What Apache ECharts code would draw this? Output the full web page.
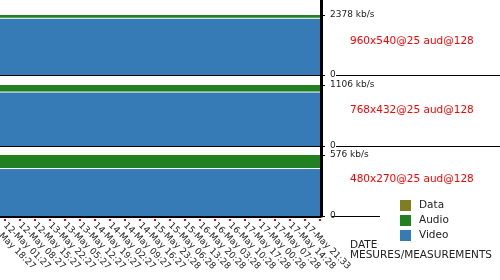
<!DOCTYPE html>
<html>
<head>
<meta charset="utf-8">
<script src="https://cdn.jsdelivr.net/npm/echarts@6/dist/echarts.min.js"></script>
<style>
  html, body { margin: 0; padding: 0; background: #fff; }
  #chart { width: 500px; height: 280px; }
</style>
</head>
<body>
<div id="chart"></div>
<script>
// categories (the first one sits just off the left edge, the last one closes the plot)
const times = ['12-May 18:27', '12-May 01:27', '12-May 08:27', '12-May 15:27', '13-May 22:27', '13-May 05:27',
  '13-May 12:27', '14-May 19:27', '14-May 02:27', '14-May 09:27', '14-May 16:27', '15-May 23:28',
  '15-May 06:28', '15-May 13:28', '16-May 20:28', '16-May 03:28', '16-May 10:28', '17-May 17:28',
  '17-May 00:28', '17-May 07:28', '17-May 14:28', '17-May 21:33', '']

// kb/s per profile
const panelNames = ['960x540@25 aud@128', '768x432@25 aud@128', '480x270@25 aud@128']
const panelMax = [2378, 1106, 576]
const video1 = [2250, 2250, 2250, 2250, 2250, 2250, 2250, 2250, 2250, 2250, 2250, 2250, 2250, 2250, 2250, 2250, 2250, 2250, 2250, 2250, 2250, 2250, 2250]
const video2 = [978, 978, 978, 978, 978, 978, 978, 978, 978, 978, 978, 978, 978, 978, 978, 978, 978, 978, 978, 978, 978, 978, 978]
const video3 = [448, 448, 448, 448, 448, 448, 448, 448, 448, 448, 448, 448, 448, 448, 448, 448, 448, 448, 448, 448, 448, 448, 448]
const audio = [128, 128, 128, 128, 128, 128, 128, 128, 128, 128, 128, 128, 128, 128, 128, 128, 128, 128, 128, 128, 128, 128, 128]
const dataRate = [0, 0, 0, 0, 0, 0, 0, 0, 0, 0, 0, 0, 0, 0, 0, 0, 0, 0, 0, 0, 0, 0, 0]
const videoByPanel = [video1, video2, video3]

const FONT = 'DejaVu Sans'
const colors = { Video: '#377bb6', Audio: '#21801f', Data: '#7f7f21' }

const grids = [
  { left: -10, right: 180, top: 15, height: 60, outerBoundsMode: 'none' },
  { left: -10, right: 180, top: 85, height: 61, outerBoundsMode: 'none' },
  { left: -10, right: 180, top: 155, height: 61, outerBoundsMode: 'none' },
  // only for the long vertical axis line on the right
  { left: -10, right: 178.5, top: 0, height: 216, outerBoundsMode: 'none' }
]

const xAxes = [0, 1, 2].map(i => ({
  type: 'category',
  gridIndex: i,
  data: times,
  boundaryGap: false,
  axisLine: { show: true, lineStyle: { color: '#000', width: i === 2 ? 3 : 1 } },
  axisTick: {
    show: i === 2,
    interval: 0,
    length: 5,
    lineStyle: { color: '#ff0000', width: 2, type: [2, 3], dashOffset: 2 }
  },
  axisLabel: {
    show: i === 2,
    interval: 0,
    rotate: -45,
    margin: 8,
    fontFamily: FONT,
    fontSize: 9,
    color: '#222'
  }
}))
xAxes.push({ type: 'category', gridIndex: 3, show: false, data: times })

const yAxes = [0, 1, 2].map(i => ({
  type: 'value',
  gridIndex: i,
  position: 'right',
  min: 0,
  max: panelMax[i],
  interval: panelMax[i],
  axisLine: { show: false },
  axisTick: { show: true, length: 5, lineStyle: { color: '#000', width: 1 } },
  splitLine: { show: false },
  axisLabel: {
    margin: 10,
    fontFamily: FONT,
    fontSize: 9,
    color: '#222',
    formatter: v => (v ? v + ' kb/s' : '0')
  }
}))
yAxes.push({
  type: 'value',
  gridIndex: 3,
  position: 'right',
  axisLine: { show: true, lineStyle: { color: '#000', width: 3 } },
  axisTick: { show: false },
  axisLabel: { show: false },
  splitLine: { show: false }
})

const series = []
for (let i = 0; i < 3; i++) {
  const base = { type: 'line', xAxisIndex: i, yAxisIndex: i, stack: 'p' + i, symbol: 'none', silent: true }
  series.push({ ...base, name: 'Video', data: videoByPanel[i], color: colors.Video,
    lineStyle: { color: '#fff', width: 1 }, areaStyle: { color: colors.Video, opacity: 1 } })
  series.push({ ...base, name: 'Audio', data: audio, color: colors.Audio,
    lineStyle: { opacity: 0 }, areaStyle: { color: colors.Audio, opacity: 1 } })
  series.push({ ...base, name: 'Data', data: dataRate, color: colors.Data,
    lineStyle: { opacity: 0 }, areaStyle: { color: colors.Data, opacity: 1 } })
}

const labelY = [42, 111, 180]
const graphic = panelNames.map((t, i) => ({
  type: 'text',
  left: 350,
  top: labelY[i] - 6,
  style: { text: t, fill: '#ff0000', font: '10.5px "DejaVu Sans"' }
}))
graphic.push(
  { type: 'line', shape: { x1: 336, y1: 75.5, x2: 500, y2: 75.5 }, style: { stroke: '#000', lineWidth: 1 } },
  { type: 'line', shape: { x1: 336, y1: 146.5, x2: 500, y2: 146.5 }, style: { stroke: '#000', lineWidth: 1 } },
  { type: 'line', shape: { x1: 332, y1: 216.5, x2: 380, y2: 216.5 }, style: { stroke: '#000', lineWidth: 1 } },
  { type: 'text', left: 350, top: 240, style: { text: 'DATE', fill: '#222', font: '10.5px "DejaVu Sans"' } },
  { type: 'text', left: 350, top: 250, style: { text: 'MESURES/MEASUREMENTS', fill: '#222', font: '10.5px "DejaVu Sans"' } }
)

const myChart = echarts.init(document.getElementById('chart'))
const option = {
  animation: false,
  grid: grids,
  xAxis: xAxes,
  yAxis: yAxes,
  legend: {
    data: ['Data', 'Audio', 'Video'],
    orient: 'vertical',
    left: 400,
    top: 200,
    padding: 0,
    icon: 'rect',
    itemWidth: 11,
    itemHeight: 11,
    itemGap: 4,
    selectedMode: false,
    textStyle: { fontFamily: FONT, fontSize: 10.5, color: '#222', padding: [0, 0, 0, 3] }
  },
  graphic: graphic,
  series: series
}
option && myChart.setOption(option)
</script>
</body>
</html>
